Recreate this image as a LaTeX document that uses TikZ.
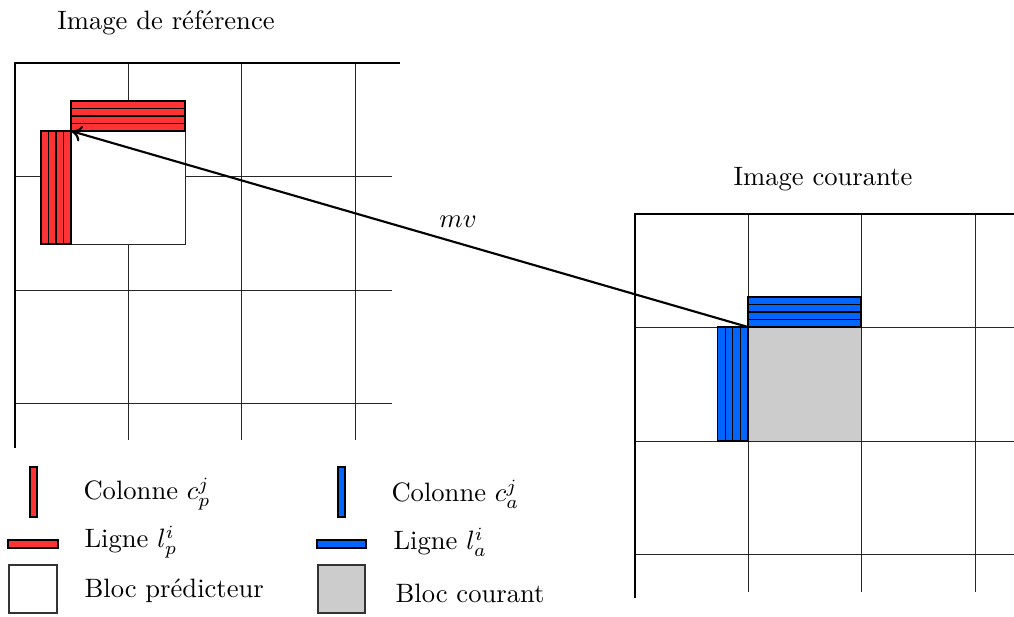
\documentclass[tikz,border=0pt]{standalone}
\usetikzlibrary{arrows.meta}
\definecolor{predred}{HTML}{FF3333}
\definecolor{curblue}{HTML}{0066FF}
\definecolor{blockgray}{HTML}{CCCCCC}
\begin{document}
\begin{tikzpicture}[x=0.376pt,y=-0.376pt,
  gridline/.style={line width=0.3pt, draw=black!85},
  frame/.style={line width=1pt, draw=black},
  strip/.style={draw=black, line width=0.45pt},
  lbl/.style={anchor=west, inner sep=0pt},
  ttl/.style={inner sep=0pt}]
\useasboundingbox (0,0) rectangle (1014,616);

% ---------- reference image ----------
\node[ttl] (titleref) at (166,23) {Image de référence};
\foreach \x in {128,241,355} \draw[gridline] (\x,63) -- (\x,440);
\foreach \y in {176,290,403} \draw[gridline] (15,\y) -- (392,\y);
\draw[frame] (15,448) -- (15,63) -- (400,63);
\draw[gridline, fill=white] (71,131) rectangle (185,244);
\foreach \i in {0,...,3}
  \draw[strip, fill=predred] (71,{101+7.5*\i}) rectangle (185,{108.5+7.5*\i});
\foreach \i in {0,...,3}
  \draw[strip, fill=predred] ({41+7.5*\i},131) rectangle ({48.5+7.5*\i},244);

% ---------- current image ----------
\node[ttl] (titlecur) at (823,179) {Image courante};
\fill[blockgray] (748,327) rectangle (861,441);
\foreach \x in {748,861,975} \draw[gridline] (\x,214) -- (\x,592);
\foreach \y in {327,441,554} \draw[gridline] (635,\y) -- (1014,\y);
\draw[frame] (635,598) -- (635,214) -- (1014,214);
\foreach \i in {0,...,3}
  \draw[strip, fill=curblue] (748,{297+7.5*\i}) rectangle (861,{304.5+7.5*\i});
\foreach \i in {0,...,3}
  \draw[strip, fill=curblue] ({717.5+7.6*\i},327) rectangle ({725.1+7.6*\i},441);

% ---------- motion vector ----------
\coordinate (cur) at (748,327);
\coordinate (pred) at (71,131);
\draw[line width=0.8pt, -{Computer Modern Rightarrow[length=4pt,width=6pt]}] (cur) -- (pred);
\node (mv) at (458,222) {$mv$};

% ---------- legend ----------
\draw[strip, fill=predred] (30,467) rectangle (37,517);
\node[lbl] (lcp) at (83,494) {Colonne $c_p^j$};
\draw[strip, fill=predred] (8,540) rectangle (58,548);
\node[lbl] (llp) at (84,542) {Ligne $l_p^i$};
\draw[strip, draw=black!80, fill=white] (9,565) rectangle (57,613);
\node[lbl] (lbp) at (84,591) {Bloc prédicteur};

\draw[strip, fill=curblue] (338,467) rectangle (345,517);
\node[lbl] (lca) at (391,494) {Colonne $c_a^j$};
\draw[strip, fill=curblue] (317,540) rectangle (366,548);
\node[lbl] (lla) at (393,542) {Ligne $l_a^i$};
\draw[strip, draw=black!80, fill=blockgray] (318,565) rectangle (365,613);
\node[lbl] (lbc) at (395,593) {Bloc courant};
\end{tikzpicture}
\end{document}
